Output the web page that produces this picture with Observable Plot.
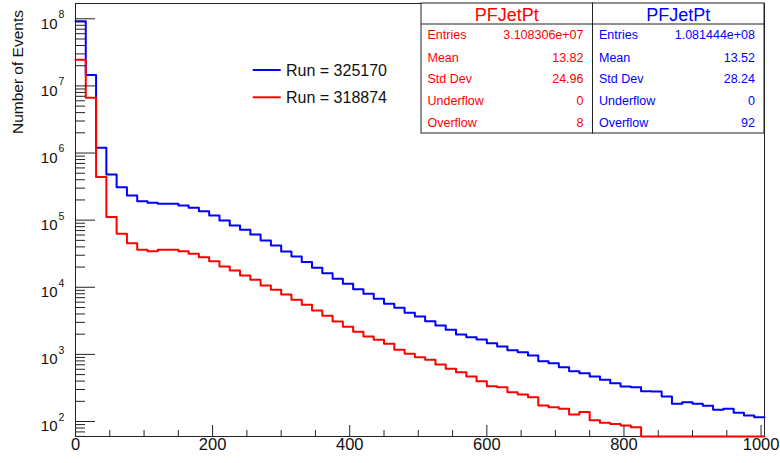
<!DOCTYPE html>
<html><head><meta charset="utf-8">
<script src="https://cdn.jsdelivr.net/npm/d3@7"></script>
<script src="https://cdn.jsdelivr.net/npm/@observablehq/plot@0.6"></script>
<style>
html,body{margin:0;padding:0;background:#fff;}
#chart{position:relative;width:780px;height:463px;}
</style></head><body><div id="chart"></div>
<script>
// ---- data (PFJetPt, 67 bins of 15 GeV from 0 to 1005) ----
const binWidth = 15;
const xMax = 1005;
const run325170 = [9.2e7, 1.45e7, 1.2e6, 4.79e5, 3.10e5, 2.33e5, 1.92e5, 1.82e5, 1.75e5, 1.75e5,
  1.65e5, 1.53e5, 1.36e5, 1.17e5, 9.88e4, 8.32e4, 7.18e4, 6.11e4, 4.97e4, 4.19e4,
  3.41e4, 2.88e4, 2.37e4, 1.95e4, 1.62e4, 1.34e4, 1.13e4, 9.37e3, 8.0e3, 6.73e3,
  5.67e3, 4.95e3, 4.17e3, 3.67e3, 3.13e3, 2.70e3, 2.33e3, 1.98e3, 1.80e3, 1.67e3,
  1.47e3, 1.31e3, 1.15e3, 1.08e3, 964, 792, 740, 645, 562, 525,
  469, 419, 373, 333, 325, 283, 280, 236, 184, 194,
  184, 171, 150, 155, 135, 123, 116];
const run318874 = [2.45e7, 6.65e6, 4.4e5, 1.11e5, 6.27e4, 4.54e4, 3.62e4, 3.45e4, 3.62e4, 3.62e4,
  3.45e4, 3.15e4, 2.81e4, 2.45e4, 2.04e4, 1.78e4, 1.50e4, 1.29e4, 1.06e4, 9.16e3,
  7.80e3, 6.50e3, 5.51e3, 4.49e3, 3.78e3, 3.08e3, 2.59e3, 2.18e3, 1.85e3, 1.65e3,
  1.44e3, 1.17e3, 1.02e3, 908, 831, 708, 610, 543, 469, 399,
  336, 325, 273, 253, 230, 173, 163, 155, 127, 138,
  104, 96, 92, 87, 82, 0, 0, 0, 0, 0,
  0, 0, 0, 0, 0, 0, 0];
const seriesNames = ["Run = 325170", "Run = 318874"];
const seriesColors = ["#0000ff", "#ff0000"];
const statTitle = "PFJetPt";
const statNames = ["Entries", "Mean", "Std Dev", "Underflow", "Overflow"];
const statsRun318874 = ["3.108306e+07", "13.82", "24.96", "0", "8"];
const statsRun325170 = ["1.081444e+08", "13.52", "28.24", "0", "92"];
const yDecadeExponents = [2, 3, 4, 5, 6, 7, 8];
const xTickLabels = [0, 200, 400, 600, 800, 1000];
const yTitle = "Number of Events";

// ---- layout ----
const W = 780, H = 463;
const mL = 75, mR = 16, mT = 3, mB = 27;
const fw = W - mL - mR, fh = H - mT - mB;
const yMin = 59.8, yMax = 1.69e8;
const font = "'Liberation Sans', Arial, Helvetica, sans-serif";

function steps(vals) {
  const pts = [];
  vals.forEach((v, i) => {
    pts.push({x: i * binWidth, v});
    pts.push({x: (i + 1) * binWidth, v});
  });
  return pts;
}
const blueSteps = steps(run325170);
const redSteps = steps(run318874);

const decades = yDecadeExponents.map(e => Math.pow(10, e));
const minorY = [];
for (let e = 1; e <= 8; e++) for (let m = 2; m <= 9; m++) {
  const v = m * Math.pow(10, e);
  if (v >= yMin && v <= yMax) minorY.push(v);
}
const minorX = [];
for (let v = 50; v <= xMax; v += 50) if (v % 200 !== 0) minorX.push(v);

const svg = Plot.plot({
  width: W, height: H,
  marginLeft: mL, marginRight: mR, marginTop: mT, marginBottom: mB,
  x: {domain: [0, xMax], axis: null},
  y: {type: "log", domain: [yMin, yMax], axis: null},
  style: {fontFamily: font, background: "white", color: "#000"},
  marks: [
    Plot.frame({stroke: "#222", strokeWidth: 1}),
    Plot.line(blueSteps, {x: "x", y: d => Math.max(d.v, yMin), stroke: seriesColors[0], strokeWidth: 2}),
    Plot.line(redSteps, {x: "x", y: d => Math.max(d.v, yMin), stroke: seriesColors[1], strokeWidth: 2}),
    Plot.tickY(decades, {y: d => d, insetRight: fw - 20, stroke: "#222", strokeWidth: 1}),
    Plot.tickY(minorY, {y: d => d, insetRight: fw - 10, stroke: "#222", strokeWidth: 1}),
    Plot.tickX(xTickLabels, {x: d => d, insetTop: fh - 11, stroke: "#222", strokeWidth: 1}),
    Plot.tickX(minorX, {x: d => d, insetTop: fh - 6, stroke: "#222", strokeWidth: 1}),
    Plot.text(decades, {y: d => d, frameAnchor: "left", text: () => "10", textAnchor: "end", dx: -18, dy: 5, fontSize: 15, fill: "#111"}),
    Plot.text(yDecadeExponents, {y: d => Math.pow(10, d), frameAnchor: "left", text: d => String(d), textAnchor: "start", dx: -17, dy: -4, fontSize: 10.5, fill: "#111"}),
    Plot.text(xTickLabels, {x: d => d, frameAnchor: "bottom", text: d => String(d), dy: 13, fontSize: 16.5, fill: "#111"})
  ]
});
document.getElementById("chart").appendChild(svg);

const s = d3.select(svg);
// y title
s.append("text").attr("transform", "translate(22.5,10) rotate(-90)")
  .attr("text-anchor", "end").attr("font-size", 15.5).attr("font-family", font)
  .attr("fill", "#111").text(yTitle);

// legend
[0, 1].forEach(i => {
  const y = i === 0 ? 70 : 97.3;
  s.append("line").attr("x1", 252.7).attr("x2", 280.7).attr("y1", y).attr("y2", y)
    .attr("stroke", seriesColors[i]).attr("stroke-width", 2);
  s.append("text").attr("x", 286).attr("y", y + 5.6).attr("font-size", 16)
    .attr("text-anchor", "start")
    .attr("font-family", font).attr("fill", "#111").text(seriesNames[i]);
});

// stats boxes
const boxes = [
  {x0: 421, x1: 592.5, color: seriesColors[1], vals: statsRun318874},
  {x0: 592.5, x1: 764, color: seriesColors[0], vals: statsRun325170}
];
const rowCenters = [35, 57.3, 79, 100.7, 122.7];
boxes.forEach(b => {
  const g = s.append("g");
  g.append("rect").attr("x", b.x0).attr("y", mT).attr("width", b.x1 - b.x0).attr("height", 133 - mT)
    .attr("fill", "white").attr("stroke", "#222").attr("stroke-width", 1);
  g.append("line").attr("x1", b.x0).attr("x2", b.x1).attr("y1", 24).attr("y2", 24)
    .attr("stroke", "#222").attr("stroke-width", 1);
  g.append("text").attr("x", (b.x0 + b.x1) / 2).attr("y", 20.8).attr("text-anchor", "middle")
    .attr("font-size", 18).attr("font-family", font).attr("fill", b.color).text(statTitle);
  statNames.forEach((n, i) => {
    g.append("text").attr("x", b.x0 + 6.5).attr("y", rowCenters[i] + 4.4).attr("text-anchor", "start")
      .attr("font-size", 12.5).attr("font-family", font).attr("fill", b.color).text(n);
    g.append("text").attr("x", b.x1 - 9).attr("y", rowCenters[i] + 4.4).attr("text-anchor", "end")
      .attr("font-size", 12.5).attr("font-family", font).attr("fill", b.color).text(b.vals[i]);
  });
});
</script>
</body></html>
